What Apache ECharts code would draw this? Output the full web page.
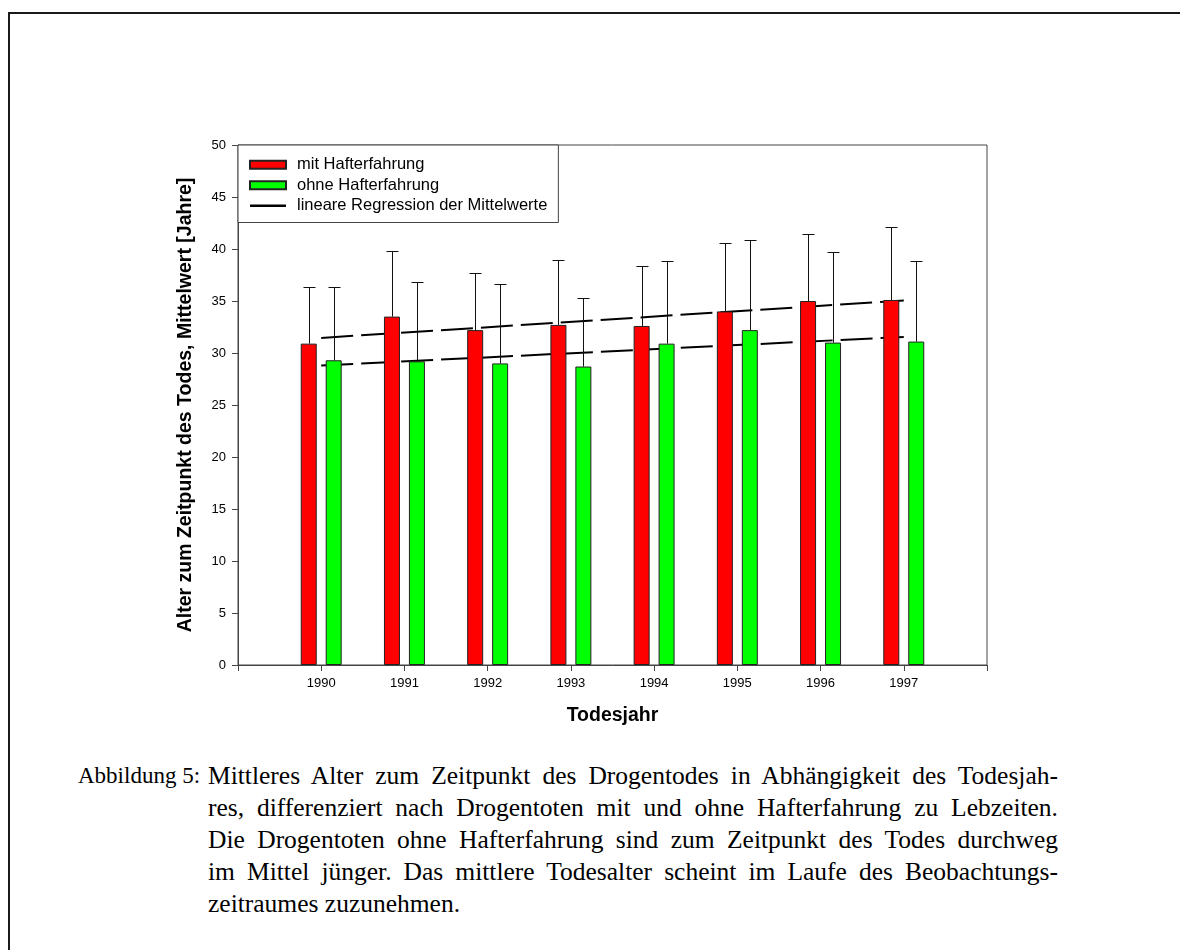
<!DOCTYPE html>
<html>
<head>
<meta charset="utf-8">
<title>Todesalter nach Todesjahr</title>
<script src="https://cdn.jsdelivr.net/npm/echarts@6/dist/echarts.min.js"></script>
<style>
  html, body { margin: 0; padding: 0; background: #fff; }
  #page { position: relative; width: 1180px; height: 950px; overflow: hidden; background: #fff; }
  #frame { position: absolute; left: 8px; top: 12px; width: 1400px; height: 1200px;
           border-top: 2px solid #1a1a1a; border-left: 2px solid #1a1a1a; }
  #chart { position: absolute; left: 0; top: 0; width: 1180px; height: 750px; }
  #caption { position: absolute; left: 78px; top: 760px; width: 980px;
             font-family: "Liberation Serif", "DejaVu Serif", serif; font-size: 25.5px;
             line-height: 32px; color: #000; }
  #caption .row { display: flex; white-space: nowrap; }
  #caption .label { flex: 0 0 130px; font-size: 23px; }
  #caption .body { flex: 0 0 850px; text-align: justify; text-align-last: justify; }
  #caption .row.last .body { text-align-last: left; }
</style>
</head>
<body>
<div id="page">
  <div id="frame"></div>
  <div id="chart"></div>
  <div id="caption">
    <div class="row"><span class="label">Abbildung 5:</span><span class="body">Mittleres Alter zum Zeitpunkt des Drogentodes in Abhängigkeit des Todesjah-</span></div>
    <div class="row"><span class="label"></span><span class="body">res, differenziert nach Drogentoten mit und ohne Hafterfahrung zu Lebzeiten.</span></div>
    <div class="row"><span class="label"></span><span class="body">Die Drogentoten ohne Hafterfahrung sind zum Zeitpunkt des Todes durchweg</span></div>
    <div class="row"><span class="label"></span><span class="body">im Mittel jünger. Das mittlere Todesalter scheint im Laufe des Beobachtungs-</span></div>
    <div class="row last"><span class="label"></span><span class="body">zeitraumes zuzunehmen.</span></div>
  </div>
</div>
<script>
// Todesjahre (the axis runs one year further on each side, unlabeled)
const years = ['1990', '1991', '1992', '1993', '1994', '1995', '1996', '1997'];
const axisYears = ['1989'].concat(years, ['1998']);

// Mittelwerte des Todesalters [Jahre]
const mitMean  = [30.9, 33.5, 32.2, 32.7, 32.6, 34.0, 35.0, 35.1];
const ohneMean = [29.3, 29.2, 29.0, 28.7, 30.9, 32.2, 31.0, 31.1];

// Standardabweichungen (nur nach oben gezeichnet)
const mitSD  = [5.4, 6.3, 5.5, 6.2, 5.8, 6.6, 6.4, 7.0];
const ohneSD = [7.0, 7.6, 7.6, 6.6, 7.9, 8.7, 8.7, 7.7];

// Regressionsgeraden der Mittelwerte: Werte bei 1990 und 1997
const regMit  = [31.45, 35.05];
const regOhne = [28.8, 31.55];

// Y-axis tick values
const yTicks = { min: 0, max: 50, step: 5 };

const NAME_MIT  = 'mit Hafterfahrung';
const NAME_OHNE = 'ohne Hafterfahrung';
const NAME_REG  = 'lineare Regression der Mittelwerte';

const BAR_W = 16;
const BAR_GAP = 0.56;
const SANS = '"Liberation Sans", Arial, sans-serif';

// positions on the category axis: index 0 is the blank leading year
const pad = (arr) => [null].concat(arr, [null]);

function errorBars(name, means, sds, side) {
  return {
    type: 'custom',
    name: name,
    silent: true,
    z: 4,
    data: means.map((m, k) => [k + 1, m, sds[k]]),
    renderItem: function (params, api) {
      const idx = api.value(0);
      const m = api.value(1);
      const s = api.value(2);
      const base = api.coord([idx, m]);
      const top = api.coord([idx, m + s]);
      const x = Math.round(base[0] + side * BAR_W * (1 + BAR_GAP) / 2) + 0.5;
      const yTop = Math.round(top[1]) + 0.5;
      const cap = 6;
      const style = { stroke: '#111', lineWidth: 1 };
      return {
        type: 'group',
        children: [
          { type: 'line', shape: { x1: x, y1: base[1], x2: x, y2: yTop }, style: style },
          { type: 'line', shape: { x1: x - cap, y1: yTop, x2: x + cap, y2: yTop }, style: style }
        ]
      };
    }
  };
}

function regLine(vals) {
  return {
    type: 'line',
    name: NAME_REG,
    z: 1,
    symbol: 'none',
    silent: true,
    data: [[1, vals[0]], [years.length, vals[1]]],
    lineStyle: { color: '#000', width: 2, type: [32, 8] },
    itemStyle: { color: '#000' }
  };
}

const chart = echarts.init(document.getElementById('chart'), null, { renderer: 'canvas' });

chart.setOption({
  backgroundColor: 'transparent',
  animation: false,
  textStyle: { fontFamily: SANS },
  grid: {
    left: 238, top: 145, right: 193, bottom: 85,
    show: true, borderColor: '#444', borderWidth: 1, backgroundColor: 'transparent'
  },
  legend: {
    orient: 'vertical',
    left: 238, top: 145,
    padding: [11, 11, 8, 11],
    itemWidth: 36, itemHeight: 8, itemGap: 3,
    borderColor: '#444', borderWidth: 1,
    backgroundColor: '#fff',
    symbolKeepAspect: true,
    textStyle: { fontFamily: SANS, fontSize: 16.5, color: '#000', lineHeight: 17.5, padding: [0, 0, 0, 6] },
    data: [
      { name: NAME_MIT, icon: 'rect' },
      { name: NAME_OHNE, icon: 'rect' },
      { name: NAME_REG, icon: 'path://M0,0L31,0L31,2L0,2Z' }
    ],
    selectedMode: false
  },
  xAxis: {
    type: 'category',
    data: axisYears,
    boundaryGap: false,
    name: 'Todesjahr',
    nameLocation: 'middle',
    nameGap: 41,
    nameTextStyle: { fontFamily: SANS, fontSize: 19.5, fontWeight: 'bold', color: '#000' },
    axisLine: { show: true, lineStyle: { color: '#444', width: 1 } },
    axisTick: { show: true, inside: false, length: 6, alignWithLabel: true, lineStyle: { color: '#444' } },
    axisLabel: {
      fontFamily: SANS, fontSize: 13, color: '#000', margin: 12, interval: 0,
      formatter: (v) => (years.indexOf(v) >= 0 ? v : '')
    },
    splitLine: { show: false }
  },
  yAxis: {
    type: 'value',
    min: yTicks.min, max: yTicks.max, interval: yTicks.step,
    name: 'Alter zum Zeitpunkt des Todes, Mittelwert [Jahre]',
    nameLocation: 'middle',
    nameGap: 42,
    nameRotate: 90,
    nameTextStyle: { fontFamily: SANS, fontSize: 19.5, fontWeight: 'bold', color: '#000' },
    axisLine: { show: true, lineStyle: { color: '#444', width: 1 } },
    axisTick: { show: true, inside: false, length: 6, lineStyle: { color: '#444' } },
    axisLabel: { fontFamily: SANS, fontSize: 13, color: '#000', margin: 12 },
    splitLine: { show: false }
  },
  series: [
    regLine(regMit),
    regLine(regOhne),
    {
      type: 'bar',
      name: NAME_MIT,
      z: 3,
      barWidth: BAR_W,
      barGap: (BAR_GAP * 100) + '%',
      data: pad(mitMean),
      itemStyle: { color: '#ff0000', borderColor: '#222', borderWidth: 1 }
    },
    {
      type: 'bar',
      name: NAME_OHNE,
      z: 3,
      barWidth: BAR_W,
      barGap: (BAR_GAP * 100) + '%',
      data: pad(ohneMean),
      itemStyle: { color: '#00ff00', borderColor: '#222', borderWidth: 1 }
    },
    errorBars('SD mit', mitMean, mitSD, -1),
    errorBars('SD ohne', ohneMean, ohneSD, 1)
  ]
});
</script>
</body>
</html>
